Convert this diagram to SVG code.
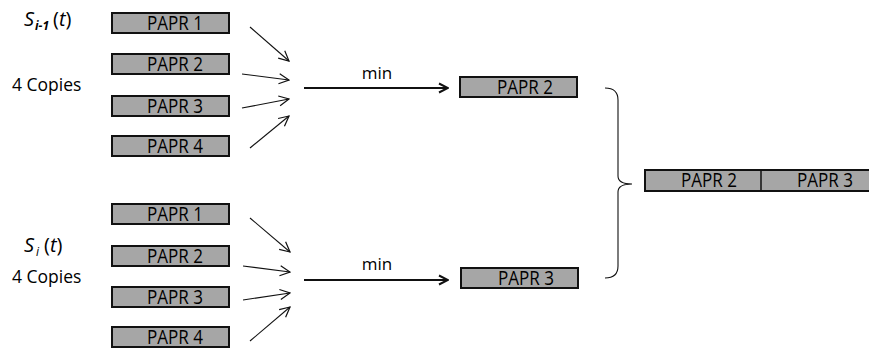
<svg xmlns="http://www.w3.org/2000/svg" width="869" height="349" viewBox="0 0 869 349">
  <style>
    text { font-family: "Open Sans", "Liberation Sans", Arial, sans-serif; fill: #000; }
    .box { fill: #a6a6a6; stroke: #111; stroke-width: 2; }
    .lbl { font-size: 19.5px; text-anchor: middle; }
    .side { font-size: 17.5px; }
    .thin { stroke: #111; stroke-width: 1.1; fill: none; }
    .thick { stroke: #111; stroke-width: 2; fill: none; }
  </style>
  <defs>
    <marker id="open" viewBox="0 0 12 12" refX="11" refY="6" markerWidth="12" markerHeight="12" markerUnits="userSpaceOnUse" orient="auto">
      <path d="M1,1 L11,6 L1,11" fill="none" stroke="#111" stroke-width="1.2"/>
    </marker>
    <marker id="solid" viewBox="0 0 12 12" refX="11" refY="6" markerWidth="12" markerHeight="12" markerUnits="userSpaceOnUse" orient="auto">
      <path d="M2,1.5 L11,6 L2,10.5" fill="none" stroke="#111" stroke-width="2"/>
    </marker>
  </defs>

  <!-- side labels -->
  <g id="label-prev">
    <text x="24" y="26" font-size="20" font-style="italic">S</text>
    <text x="35" y="30" font-size="12" font-style="italic" font-weight="bold">i-1</text>
    <text x="53" y="26" font-size="20">(<tspan font-style="italic">t</tspan>)</text>
    <text x="12" y="91" class="side">4 Copies</text>
  </g>
  <g id="label-cur">
    <text x="24" y="252" font-size="20" font-style="italic">S</text>
    <text x="36" y="256" font-size="12" font-style="italic">i</text>
    <text x="44" y="252" font-size="20">(<tspan font-style="italic">t</tspan>)</text>
    <text x="12" y="283" class="side">4 Copies</text>
  </g>

  <!-- upper group of copies -->
  <g id="u1"><rect class="box" x="112" y="13" width="117" height="20"/><text class="lbl" x="175" y="30" textLength="56" lengthAdjust="spacingAndGlyphs">PAPR 1</text></g>
  <g id="u2"><rect class="box" x="112" y="54" width="117" height="20"/><text class="lbl" x="175" y="71" textLength="56" lengthAdjust="spacingAndGlyphs">PAPR 2</text></g>
  <g id="u3"><rect class="box" x="112" y="96" width="117" height="20"/><text class="lbl" x="175" y="113" textLength="56" lengthAdjust="spacingAndGlyphs">PAPR 3</text></g>
  <g id="u4"><rect class="box" x="112" y="136" width="117" height="20"/><text class="lbl" x="175" y="153" textLength="56" lengthAdjust="spacingAndGlyphs">PAPR 4</text></g>

  <!-- lower group of copies -->
  <g id="l1"><rect class="box" x="112" y="204" width="117" height="20"/><text class="lbl" x="175" y="221" textLength="56" lengthAdjust="spacingAndGlyphs">PAPR 1</text></g>
  <g id="l2"><rect class="box" x="112" y="246" width="117" height="20"/><text class="lbl" x="175" y="263" textLength="56" lengthAdjust="spacingAndGlyphs">PAPR 2</text></g>
  <g id="l3"><rect class="box" x="112" y="287" width="117" height="20"/><text class="lbl" x="175" y="304" textLength="56" lengthAdjust="spacingAndGlyphs">PAPR 3</text></g>
  <g id="l4"><rect class="box" x="112" y="327" width="117" height="20"/><text class="lbl" x="175" y="344" textLength="56" lengthAdjust="spacingAndGlyphs">PAPR 4</text></g>

  <!-- selected minima -->
  <g id="min-top"><rect class="box" x="460" y="77" width="117" height="20"/><text class="lbl" x="525" y="94" textLength="56" lengthAdjust="spacingAndGlyphs">PAPR 2</text></g>
  <g id="min-bot"><rect class="box" x="461" y="268" width="117" height="20"/><text class="lbl" x="526" y="285" textLength="56" lengthAdjust="spacingAndGlyphs">PAPR 3</text></g>

  <!-- combined result -->
  <g id="result">
    <rect class="box" x="645" y="170" width="225" height="21"/>
    <line x1="761" y1="170" x2="761" y2="191" stroke="#111" stroke-width="1.5"/>
    <text class="lbl" x="709" y="187" textLength="56" lengthAdjust="spacingAndGlyphs">PAPR 2</text>
    <text class="lbl" x="825" y="187" textLength="56" lengthAdjust="spacingAndGlyphs">PAPR 3</text>
  </g>

  <g id="connectors">
    <line class="thin" x1="250" y1="27" x2="289" y2="61" marker-end="url(#open)"/>
    <line class="thin" x1="242" y1="74" x2="289" y2="80" marker-end="url(#open)"/>
    <line class="thin" x1="242" y1="108" x2="289" y2="99" marker-end="url(#open)"/>
    <line class="thin" x1="250" y1="148" x2="289" y2="116" marker-end="url(#open)"/>

    <line class="thin" x1="250" y1="218" x2="290" y2="252" marker-end="url(#open)"/>
    <line class="thin" x1="243" y1="266" x2="290" y2="272" marker-end="url(#open)"/>
    <line class="thin" x1="243" y1="300" x2="290" y2="293" marker-end="url(#open)"/>
    <line class="thin" x1="250" y1="341" x2="290" y2="307" marker-end="url(#open)"/>

    <line class="thick" x1="304" y1="88" x2="448" y2="88" marker-end="url(#solid)"/>
    <text x="377" y="79" font-size="17" text-anchor="middle">min</text>
    <line class="thick" x1="304" y1="280" x2="448" y2="280" marker-end="url(#solid)"/>
    <text x="377" y="270" font-size="17" text-anchor="middle">min</text>

    <!-- brace joining both minima -->
    <path class="thin" stroke-width="1.3" d="M605,88 Q618,88 618,100 L618,176 Q618,184 632,184 Q618,184 618,192 L618,266 Q618,278 605,278"/>
  </g>
</svg>
